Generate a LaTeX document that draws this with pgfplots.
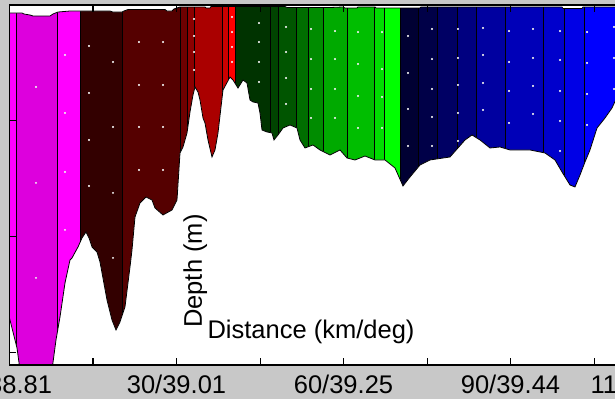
\documentclass[border=0pt]{standalone}
\usepackage{pgfplots}
\pgfplotsset{compat=1.18}
\usepackage{fontspec}
\setmainfont{Liberation Sans}
\definecolor{bg}{RGB}{200,200,200}
\definecolor{m1}{RGB}{255,0,255}
\definecolor{m2}{RGB}{221,0,221}
\definecolor{r1}{RGB}{51,0,0}
\definecolor{r2}{RGB}{85,0,0}
\definecolor{r3}{RGB}{110,0,0}
\definecolor{r4}{RGB}{140,0,0}
\definecolor{r5}{RGB}{170,0,0}
\definecolor{r6}{RGB}{204,0,0}
\definecolor{r7}{RGB}{255,0,0}
\definecolor{g1}{RGB}{0,51,0}
\definecolor{g2}{RGB}{0,68,0}
\definecolor{g3}{RGB}{0,85,0}
\definecolor{g4}{RGB}{0,110,0}
\definecolor{g5}{RGB}{0,140,0}
\definecolor{g6}{RGB}{0,170,0}
\definecolor{g7}{RGB}{0,190,0}
\definecolor{g8}{RGB}{0,221,0}
\definecolor{g9}{RGB}{0,255,0}
\definecolor{b1}{RGB}{0,0,51}
\definecolor{b2}{RGB}{0,0,72}
\definecolor{b3}{RGB}{0,0,100}
\definecolor{b4}{RGB}{0,0,128}
\definecolor{b5}{RGB}{0,0,160}
\definecolor{b6}{RGB}{0,0,184}
\definecolor{b7}{RGB}{0,0,204}
\definecolor{b8}{RGB}{0,0,230}
\definecolor{b9}{RGB}{0,0,255}
\newcommand{\band}[3]{\addplot[fill=#3, draw=black, line width=0.8pt] coordinates {(#1,0) (#2,0) (#2,1552) (#1,1552)} -- cycle;}
\begin{document}
\begin{tikzpicture}
\fill[bg] (-9.5pt,-34pt) rectangle (605.5pt,365pt);
\begin{axis}[
  scale only axis, width=626.8pt, height=360pt,
  xmin=0, xmax=112.6, ymin=0, ymax=1552, y dir=reverse,
  axis on top,
  axis background/.style={fill=white},
  axis line style={black, line width=1.2pt},
  tick align=inside, major tick length=7pt,
  every tick/.style={black, line width=1pt},
  xtick={0,15,30,45,60,75,90,105},
  xticklabels={0/38.81,,30/39.01,,60/39.25,,90/39.44,},
  extra x ticks={112.6}, extra x tick labels={112/39.59},
  extra x tick style={major tick length=0pt, xticklabel style={xshift=10pt}},
  xticklabel style={font=\fontsize{25.5}{30}\selectfont, inner sep=0pt, anchor=base, yshift=-28pt},
  ytick={0,500,1000,1500}, yticklabels={},
  xlabel={Distance (km/deg)}, ylabel={Depth (m)},
  every axis x label/.style={at={(axis description cs:0.3157,0.0742)}, anchor=base west, inner sep=0pt, font=\fontsize{25.5}{30}\selectfont},
  every axis y label/.style={at={(axis description cs:0.3071,0.1028)}, anchor=base west, rotate=90, inner sep=0pt, font=\fontsize{25.5}{30}\selectfont},
]
\band{0}{1.257}{m1}
\band{1.257}{8.623}{m2}
\band{8.623}{12.754}{m1}
\band{12.754}{20.299}{r1}
\band{20.299}{30.719}{r2}
\band{30.719}{31.886}{r3}
\band{31.886}{33.144}{r4}
\band{33.144}{38.174}{r5}
\band{38.174}{39.251}{r6}
\band{39.251}{40.599}{r7}
\band{40.599}{46.796}{g1}
\band{46.796}{48.234}{g2}
\band{48.234}{51.467}{g3}
\band{51.467}{53.623}{g4}
\band{53.623}{56.317}{g5}
\band{56.317}{60.629}{g6}
\band{60.629}{65.479}{g7}
\band{65.479}{67.365}{g8}
\band{67.365}{70.240}{g9}
\band{70.240}{73.473}{b1}
\band{73.473}{76.886}{b2}
\band{76.886}{80.479}{b3}
\band{80.479}{83.892}{b4}
\band{83.892}{89.012}{b5}
\band{89.012}{95.838}{b6}
\band{95.838}{99.611}{b7}
\band{99.611}{103.204}{b8}
\band{103.204}{112.6}{b9}
% sample dots
\addplot[only marks, mark=*, mark size=0.75pt, mark options={draw=white!85!gray, fill=white}] coordinates {
(4.760,353.4) (4.760,767.2) (4.760,1176.7)
(9.970,215.5) (9.970,465.5) (9.970,719.8) (9.970,969.8)
(14.281,176.7) (14.281,379.3) (14.281,581.9) (14.281,780.2)
(18.593,245.7) (18.593,525.9) (18.593,810.3) (18.593,1090.5)
(23.263,159.5) (23.263,344.8) (23.263,525.9) (23.263,711.2)
(27.575,159.5) (27.575,344.8) (27.575,525.9) (27.575,711.2)
(33.144,60.3) (33.144,133.6) (33.144,202.6) (33.144,280.2)
(39.970,51.7) (39.970,116.4) (39.970,181.0) (39.970,245.7)
(44.820,77.6) (44.820,159.5) (44.820,245.7) (44.820,331.9)
(49.671,94.8) (49.671,202.6) (49.671,314.7) (49.671,426.7)
(54.162,103.4) (54.162,232.8) (54.162,362.1) (54.162,487.1)
(58.473,112.1) (58.473,232.8) (58.473,362.1) (58.473,487.1)
(62.605,116.4) (62.605,254.3) (62.605,392.2) (62.605,530.2)
(66.916,116.4) (66.916,275.9) (66.916,396.6) (66.916,530.2)
(71.587,133.6) (71.587,293.1) (71.587,448.3) (71.587,607.8)
(75.898,103.4) (75.898,232.8) (75.898,362.1) (75.898,482.8) (75.898,607.8)
(80.569,103.4) (80.569,228.4) (80.569,344.8) (80.569,465.5) (80.569,586.2)
(85.060,99.1) (85.060,215.5) (85.060,336.2) (85.060,452.6)
(89.731,112.1) (89.731,245.7) (89.731,370.7) (89.731,508.6)
(94.042,103.4) (94.042,228.4) (94.042,349.1) (94.042,469.8)
(98.892,112.1) (98.892,237.1) (98.892,370.7) (98.892,500.0) (98.892,629.3)
(103.743,116.4) (103.743,250.0) (103.743,383.6) (103.743,517.2)
(108.593,94.8) (108.593,228.4) (108.593,362.1)
};
% surface (missing data at top)
\addplot[fill=white, draw=black, line width=0.8pt] coordinates {
(0,0) (0,34.5) (2.246,34.5) (2.605,38.8) (3.683,43.1) (4.222,47.4) (7.275,47.4) (7.814,38.8)
(8.713,30.2) (10.868,25.9) (18.054,25.9) (18.593,30.2) (20.210,30.2) (20.569,25.9) (21.287,19.4)
(27.934,19.4) (28.293,25.9) (29.192,25.9) (29.551,17.2) (30.629,8.6) (35.120,8.6) (35.299,12.9)
(36.018,12.9) (36.198,6.5) (49.491,6.5) (49.850,10.8) (57.575,10.8) (59.910,8.6) (60.269,12.9)
(62.425,12.9) (62.605,8.6) (65.659,8.6) (65.838,12.9) (73.743,12.9) (73.922,8.6) (99.251,8.6)
(99.431,15.1) (102.844,15.1) (103.024,8.6) (112.6,8.6) (112.6,0)
} -- cycle;
% bathymetry
\addplot[fill=white, draw=black, line width=0.8pt] coordinates {
(0,1349.1) (0.629,1409.5) (1.347,1478.4) (1.886,1573.3) (7.635,1573.3) (8.353,1444.0) (9.072,1344.8)
(9.970,1198.3) (10.868,1099.1) (11.228,1090.5) (12.305,1043.1) (13.024,1004.3) (13.742,978.4)
(14.281,1004.3) (14.820,1043.1) (15.719,1064.7) (16.258,1107.8) (17.515,1271.6) (18.413,1357.8)
(19.132,1400.9) (19.850,1366.4) (20.749,1301.7) (21.647,1129.3) (22.006,1056.0) (22.545,913.8)
(23.443,853.4) (24.521,827.6) (25.599,840.5) (26.138,875.0) (27.575,905.2) (29.192,883.6)
(30.090,840.5) (30.629,637.9) (31.168,612.1) (31.886,551.7) (32.425,461.2) (32.964,387.9)
(33.323,353.4) (33.862,375.0) (34.222,409.5) (34.760,487.1) (35.120,508.6) (35.659,581.9)
(36.377,655.2) (36.916,625.0) (37.455,551.7) (38.353,366.4) (39.611,310.3) (40.150,323.3)
(41.048,357.8) (41.946,323.3) (42.665,336.2) (43.204,409.5) (43.743,418.1) (44.641,422.4)
(45.000,465.5) (45.359,538.8) (46.257,547.4) (47.156,551.7) (47.515,581.9) (48.234,560.3)
(49.132,530.2) (50.389,517.2) (51.647,530.2) (52.186,581.9) (53.084,616.4) (54.521,603.4)
(55.778,625.0) (57.575,646.6) (59.371,625.0) (60.629,659.5) (62.066,668.1) (63.862,650.9)
(65.659,668.1) (67.455,668.1) (69.251,702.6) (70.689,780.2) (71.946,741.4) (73.743,689.7)
(75.539,668.1) (79.132,655.2) (81.826,581.9) (83.084,560.3) (84.521,581.9) (86.317,616.4)
(88.114,612.1) (89.910,625.0) (93.503,625.0) (96.198,637.9) (97.994,668.1) (99.251,719.8)
(100.689,775.9) (101.587,784.5) (102.485,732.8) (103.383,676.7) (104.281,625.0) (105.539,530.2)
(106.976,487.1) (108.234,444.0) (109.311,387.9) (110.569,344.8) (112.6,340.0)
(112.6,1620) (0,1620)
} -- cycle;
\end{axis}
\pgfresetboundingbox
\path[use as bounding box] (-9.5pt,-34pt) rectangle (605.5pt,365pt);
\end{tikzpicture}
\end{document}
